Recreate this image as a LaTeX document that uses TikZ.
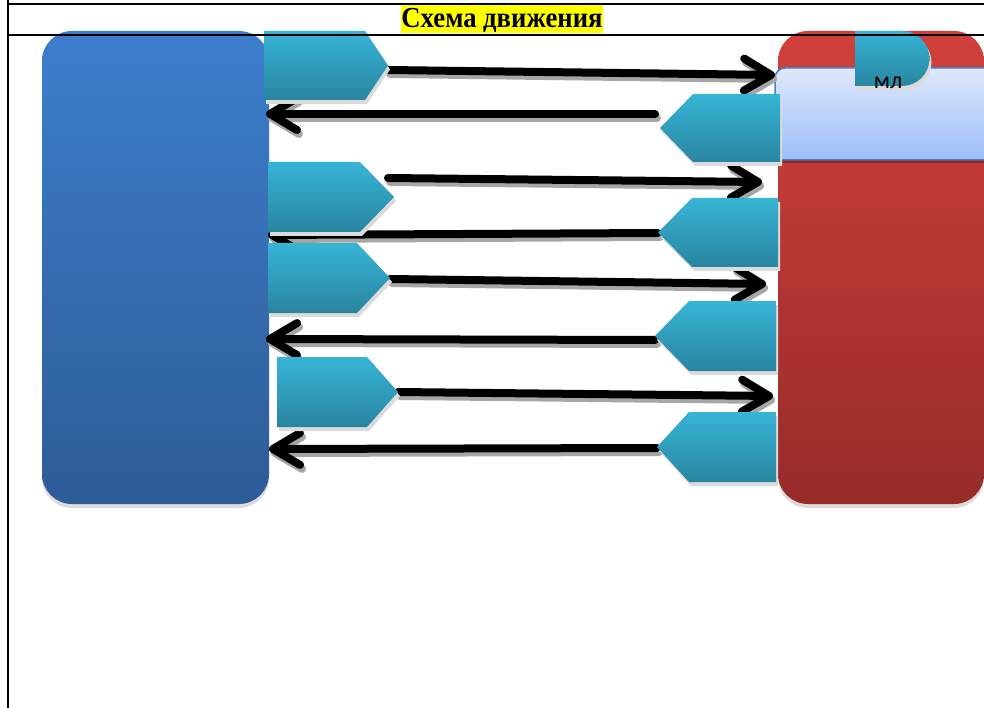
\documentclass[tikz,border=0pt]{standalone}
\usepackage{fontspec}
\setmainfont{Liberation Serif}
\newfontfamily\labelfont{Carlito}
\usetikzlibrary{arrows.meta,shadows}

\definecolor{blueTop}{HTML}{3D7ECC}
\definecolor{blueBot}{HTML}{2D5C97}
\definecolor{redTop}{HTML}{D0403B}
\definecolor{redBot}{HTML}{972B2A}
\definecolor{cyanTop}{HTML}{37B4D6}
\definecolor{cyanBot}{HTML}{2985A0}
\definecolor{paleTop}{HTML}{DFE8FC}
\definecolor{paleBot}{HTML}{9DBEF8}
\definecolor{paleEdge}{HTML}{4A7EBB}
\definecolor{hilite}{HTML}{FFFF00}

% right-pointing tab: left, top, shoulder, tip, bottom
\newcommand\tagright[5]{%
  \path[tag] (#1,#2) -- (#3,#2) -- (#4,{(#2+#5)/2}) -- (#3,#5) -- (#1,#5) -- cycle;}
% left-pointing tab: tip, top, shoulder, right, bottom
\newcommand\tagleft[5]{%
  \path[tag] (#1,{(#2+#5)/2}) -- (#3,#2) -- (#4,#2) -- (#4,#5) -- (#3,#5) -- cycle;}

\begin{document}
\begin{tikzpicture}[x=1pt,y=-1pt,
  bigbox/.style={rectangle, rounded corners=30pt, inner sep=0pt, draw=none,
    drop shadow={shadow xshift=0pt, shadow yshift=-4pt, fill=black!14, opacity=1}},
  tab/.style={line width=2pt},
  tag/.style={top color=cyanTop, bottom color=cyanBot,
    drop shadow={shadow xshift=2pt, shadow yshift=-4pt, fill=black!14, opacity=1}},
  flow/.style={line width=8pt, line cap=round,
    -{Straight Barb[length=27pt,width=32pt,round]}},
  flowshade/.style={flow, draw=black!35},
]
\clip (0,0) rectangle (984,708);
\fill[white] (0,0) rectangle (984,708);

% the two end blocks
\node[bigbox, minimum width=227pt, minimum height=473pt,
      top color=blueTop, bottom color=blueBot] (src) at (155.5,267.5) {};
\node[bigbox, minimum width=206pt, minimum height=473pt,
      top color=redTop, bottom color=redBot] (dst) at (881,267.5) {};

% pale panel inside the right block
\node[rectangle, rounded corners=10pt, inner sep=0pt, minimum width=225pt, minimum height=92pt,
      draw=paleEdge, line width=1.5pt, top color=paleTop, bottom color=paleBot,
      drop shadow={shadow xshift=0pt, shadow yshift=-3pt, fill=black, opacity=0.3}]
      (panel) at (887.5,114) {};

% rounded tab with its label
\path[tag] (855,31) -- (902,31) arc[start angle=-90, end angle=90, radius=27.5]
      -- (855,86) -- cycle;
\node[font=\labelfont\fontsize{24}{24}\selectfont, inner sep=0pt, anchor=base] (ml) at (888,89) {мл};

% arrow end points
\coordinate (a1s) at (388,70);  \coordinate (a1e) at (775,75);
\coordinate (a2s) at (655,114); \coordinate (a2e) at (266,114);
\coordinate (a3s) at (388,178); \coordinate (a3e) at (762,182);
\coordinate (a4s) at (658,233); \coordinate (a4e) at (268,235);
\coordinate (a5s) at (390,279); \coordinate (a5e) at (766,284);
\coordinate (a6s) at (655,340); \coordinate (a6e) at (266,339);
\coordinate (a7s) at (398,392); \coordinate (a7e) at (773,396);
\coordinate (a8s) at (657,448); \coordinate (a8e) at (269,449);

\foreach \s/\e in {a1s/a1e,a2s/a2e,a3s/a3e,a4s/a4e,a5s/a5e,a6s/a6e,a7s/a7e,a8s/a8e}{
  \draw[flowshade] ([shift={(2,4)}]\s) -- ([shift={(2,4)}]\e);
  \draw[flow] (\s) -- (\e);
}

% tabs on the left block
\tagright{264}{31}{365}{388}{100}
\tagright{268}{162}{360}{394}{232}
\tagright{268}{243}{357}{390}{313}
\tagright{277}{357}{367}{398}{427}

% tabs on the right block
\tagleft{660}{94}{693}{780}{162}
\tagleft{658}{198}{692}{778}{267}
\tagleft{655}{301}{689}{776}{371}
\tagleft{657}{412}{689}{776}{482}

% table frame
\draw[tab] (8,0) -- (8,708);
\draw[tab] (8,4) -- (984,4);
\draw[tab] (8,35) -- (984,35);

% heading on its highlight
\node[fill=hilite, inner sep=0pt, minimum width=202pt, minimum height=28pt] (titlebg) at (502,19) {};
\node[inner sep=0pt, anchor=base] (title) at (502,28)
  {\scalebox{0.92}[1]{\fontsize{29}{29}\selectfont\bfseries Схема движения}};
\end{tikzpicture}
\end{document}
